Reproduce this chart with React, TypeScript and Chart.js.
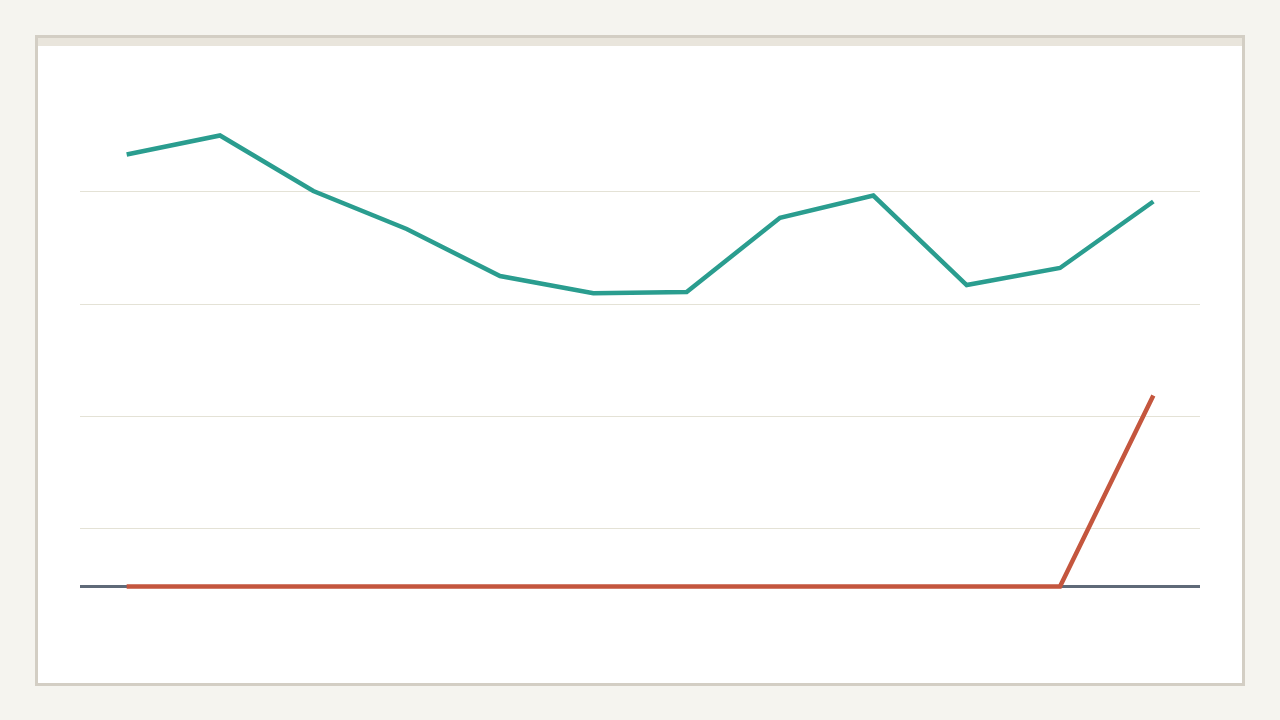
import React, { useEffect, useRef } from "react";
import { Chart, registerables } from "chart.js";

Chart.register(...registerables);

const categories = ["1", "2", "3", "4", "5", "6", "7", "8", "9", "10", "11", "12"];
const tealValues = [77.14, 80.54, 70.63, 63.84, 55.45, 52.36, 52.59, 65.86, 69.82, 53.84, 56.88, 68.75];
const redValues = [0, 0, 0, 0, 0, 0, 0, 0, 0, 0, 0, 34.11];
const gridValues = [0, 10.45, 30.45, 50.45, 70.45];
const yMin = -9.55;
const yMax = 90.45;

export default function App() {
  const ref = useRef<HTMLCanvasElement | null>(null);

  useEffect(() => {
    if (!ref.current) return;
    const chart = new Chart(ref.current, {
      type: "line",
      data: {
        labels: categories,
        datasets: [
          {
            label: "A",
            data: tealValues,
            borderColor: "#2a9d8f",
            borderWidth: 4.5,
            pointRadius: 0,
            tension: 0,
            fill: false,
          },
          {
            label: "B",
            data: redValues,
            borderColor: "#c4563e",
            borderWidth: 4.5,
            pointRadius: 0,
            tension: 0,
            fill: false,
          },
        ],
      },
      options: {
        animation: false,
        responsive: false,
        maintainAspectRatio: false,
        layout: { padding: { left: 80, right: 80, top: 80, bottom: 80 } },
        plugins: { legend: { display: false }, tooltip: { enabled: false } },
        scales: {
          x: {
            type: "category",
            display: false,
            offset: true,
          },
          y: {
            min: yMin,
            max: yMax,
            border: { display: false },
            ticks: { display: false, padding: 0 },
            afterBuildTicks: (axis: any) => {
              axis.ticks = gridValues.map((v) => ({ value: v }));
            },
            grid: {
              drawTicks: false,
              color: (ctx: any) => (ctx.tick && ctx.tick.value === 0 ? "#5f6a78" : "#e4e2d6"),
              lineWidth: (ctx: any) => (ctx.tick && ctx.tick.value === 0 ? 3 : 1),
            },
          },
        },
      },
    });
    return () => chart.destroy();
  }, []);

  return (
    <div style={{ position: "fixed", left: 0, top: 0, width: 1280, height: 720, background: "#f5f4ef" }}>
      <div
        style={{
          position: "absolute",
          left: 35,
          top: 35,
          width: 1210,
          height: 651,
          boxSizing: "border-box",
          border: "3px solid #d3cec4",
          background: "#ffffff",
        }}
      >
        <div style={{ height: 8, background: "#e9e5dc" }} />
      </div>
      <canvas
        ref={ref}
        width={1280}
        height={720}
        style={{ position: "absolute", left: 0, top: 0, width: 1280, height: 720 }}
      />
    </div>
  );
}
